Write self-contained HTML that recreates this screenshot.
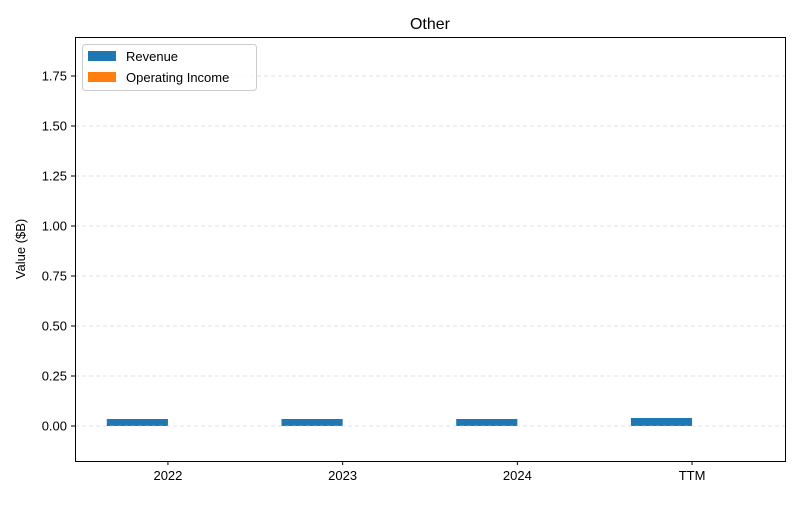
<!DOCTYPE html>
<html><head><meta charset="utf-8"><style>body{margin:0;background:#fff}svg text{font-family:"Liberation Sans","DejaVu Sans",sans-serif}</style></head>
<body>
<svg id="chart" width="800" height="500" xmlns="http://www.w3.org/2000/svg">
<rect width="800" height="500" fill="#fff"/>
<g id="bars"></g><g id="grid"></g><g id="axes"></g>
</svg>
<script>
const categories = ["2022","2023","2024","TTM"];
const revenue = [0.035,0.035,0.035,0.04];
const opIncome = [0,0,0,0];
const yTicks = [0,0.25,0.5,0.75,1.0,1.25,1.5,1.75];
const yTickLabels = ["0.00","0.25","0.50","0.75","1.00","1.25","1.50","1.75"];
const L=75,R=785,T=37,B=461,yMin=-0.175,yMax=1.945,xMin=-0.532,xMax=3.532,bw=0.35;
const ns="http://www.w3.org/2000/svg";
const y=v=>B-(v-yMin)/(yMax-yMin)*(B-T);
const x=v=>L+(v-xMin)/(xMax-xMin)*(R-L);
function mk(t,a,p,txt){const e=document.createElementNS(ns,t);for(const k in a)e.setAttribute(k,a[k]);if(txt!==undefined)e.textContent=txt;p.appendChild(e);return e;}
const bars=document.getElementById('bars'),grid=document.getElementById('grid'),axes=document.getElementById('axes');
categories.forEach((c,i)=>{
 let r=mk('rect',{x:x(i-bw),y:Math.min(y(revenue[i]),y(0)),width:x(bw)-x(0),height:Math.abs(y(0)-y(revenue[i])),fill:'#1f77b4'},bars);
 
 
 let o=mk('rect',{x:x(i),y:Math.min(y(opIncome[i]),y(0)),width:x(bw)-x(0),height:Math.abs(y(0)-y(opIncome[i])),fill:'#ff7f0e'},bars);
 
 
 let t=mk('line',{x1:x(i),x2:x(i),y1:B,y2:B+4,stroke:'#000'},axes);
 
 
 let lb=mk('text',{x:x(i),y:B+19,'text-anchor':'middle','font-size':13},axes,c);
 
 
});
yTicks.forEach((v,i)=>{
 let g=mk('line',{x1:L,x2:R,y1:y(v),y2:y(v),stroke:'#ccc','stroke-dasharray':'4,3','stroke-width':0.8,opacity:0.8},grid);
 
 
 let t=mk('line',{x1:L-4,x2:L,y1:y(v),y2:y(v),stroke:'#000'},axes);
 
 
 let lb=mk('text',{x:L-8,y:y(v)+4.5,'text-anchor':'end','font-size':13},axes,yTickLabels[i]);
 
 
});
</script>
<svg style="position:absolute;left:0;top:0" width="800" height="500" xmlns="http://www.w3.org/2000/svg">
<rect x="75.5" y="37.5" width="710" height="424" fill="none" stroke="#000" stroke-width="1"/>
<text x="430" y="29" text-anchor="middle" font-size="16" font-family="Liberation Sans, sans-serif">Other</text>
<text transform="translate(25,249) rotate(-90)" text-anchor="middle" font-size="13" font-family="Liberation Sans, sans-serif">Value ($B)</text>
<g>
<rect x="82.5" y="44.5" width="174" height="46" rx="3" fill="#fff" fill-opacity="0.8" stroke="#ccc"/>
<rect x="88" y="51" width="28" height="10" fill="#1f77b4"/>
<text x="126" y="61" font-size="13" font-family="Liberation Sans, sans-serif">Revenue</text>
<rect x="88" y="72" width="28" height="10" fill="#ff7f0e"/>
<text x="126" y="82" font-size="13" font-family="Liberation Sans, sans-serif">Operating Income</text>
</g>
</svg>
</body></html>
